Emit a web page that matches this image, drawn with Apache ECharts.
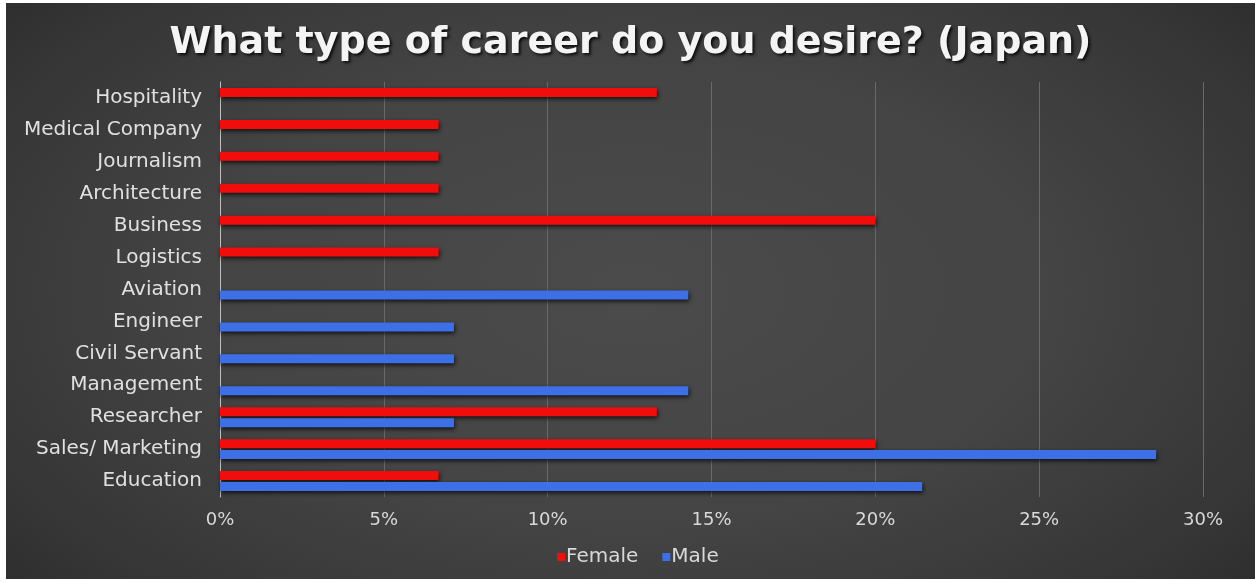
<!DOCTYPE html>
<html>
<head>
<meta charset="utf-8">
<script src="https://cdn.jsdelivr.net/npm/echarts@6/dist/echarts.min.js"></script>
<style>
  html, body { margin: 0; padding: 0; background: #ffffff; }
  #wrap { position: relative; width: 1255px; height: 583px; overflow: hidden; background: #ffffff; }
  #chart {
    position: absolute; left: 6px; top: 3px; width: 1249px; height: 576px;
    background: radial-gradient(ellipse 75% 90% at 50% 50%, #4b4b4b 0%, #444444 45%, #363636 75%, #272727 100%);
  }
</style>
</head>
<body>
<div id="wrap"><div id="chart"></div></div>
<script>
// Career categories, listed bottom to top along the vertical axis
const categories = [
  'Education', 'Sales/ Marketing', 'Researcher', 'Management', 'Civil Servant',
  'Engineer', 'Aviation', 'Logistics', 'Business', 'Architecture',
  'Journalism', 'Medical Company', 'Hospitality'
];
// Share of respondents (%) per career
const femaleValues = [6.67, 20.0, 13.33, null, null, null, null, 6.67, 20.0, 6.67, 6.67, 6.67, 13.33];
const maleValues   = [21.43, 28.57, 7.14, 14.29, 7.14, 7.14, 14.29, null, null, null, null, null, null];
const seriesNames = ['Female', 'Male'];
const xTicks = [0, 5, 10, 15, 20, 25, 30];

const chart = echarts.init(document.getElementById('chart'), null, { renderer: 'canvas' });

const barShadow = {
  shadowColor: 'rgba(0,0,0,0.75)',
  shadowBlur: 4,
  shadowOffsetX: 1,
  shadowOffsetY: 2
};

chart.setOption({
  backgroundColor: 'transparent',
  animation: false,
  title: {
    text: 'What type of career do you desire? (Japan)',
    left: 'center',
    top: 16,
    textStyle: {
      fontFamily: 'DejaVu Sans',
      fontWeight: 'bold',
      fontSize: 38,
      color: '#f4f4f4',
      textShadowColor: 'rgba(0,0,0,0.8)',
      textShadowBlur: 3,
      textShadowOffsetX: 2,
      textShadowOffsetY: 2
    }
  },
  legend: {
    data: seriesNames,
    bottom: 7,
    left: 546,
    itemWidth: 8,
    itemHeight: 8,
    itemGap: 24,
    icon: 'rect',
    textStyle: { color: '#d9d9d9', fontSize: 20, fontFamily: 'DejaVu Sans', padding: [0, 0, 0, -4] }
  },
  grid: { left: 214, right: 52, top: 79, height: 415, containLabel: false },
  xAxis: {
    type: 'value',
    min: 0, max: 30, interval: 5,
    axisLine: { show: false },
    axisTick: { show: false },
    splitLine: { show: true, lineStyle: { color: '#696969', width: 1 } },
    axisLabel: {
      color: '#d9d9d9', fontSize: 18, fontFamily: 'DejaVu Sans', margin: 14,
      formatter: v => (xTicks.includes(v) ? v + '%' : '')
    }
  },
  yAxis: {
    type: 'category',
    data: categories,
    axisLine: { show: true, lineStyle: { color: '#c0c0c0', width: 1 } },
    axisTick: { show: false },
    axisLabel: { color: '#e0e0e0', fontSize: 20, fontFamily: 'DejaVu Sans', margin: 18 }
  },
  series: [
    {
      name: 'Female', type: 'bar', data: femaleValues,
      barWidth: 9, barGap: '22%',
      itemStyle: Object.assign({ color: '#f20d0d' }, barShadow)
    },
    {
      name: 'Male', type: 'bar', data: maleValues,
      barWidth: 9, barGap: '22%',
      itemStyle: Object.assign({ color: '#3d6fe6' }, barShadow)
    }
  ]
});
</script>
</body>
</html>
